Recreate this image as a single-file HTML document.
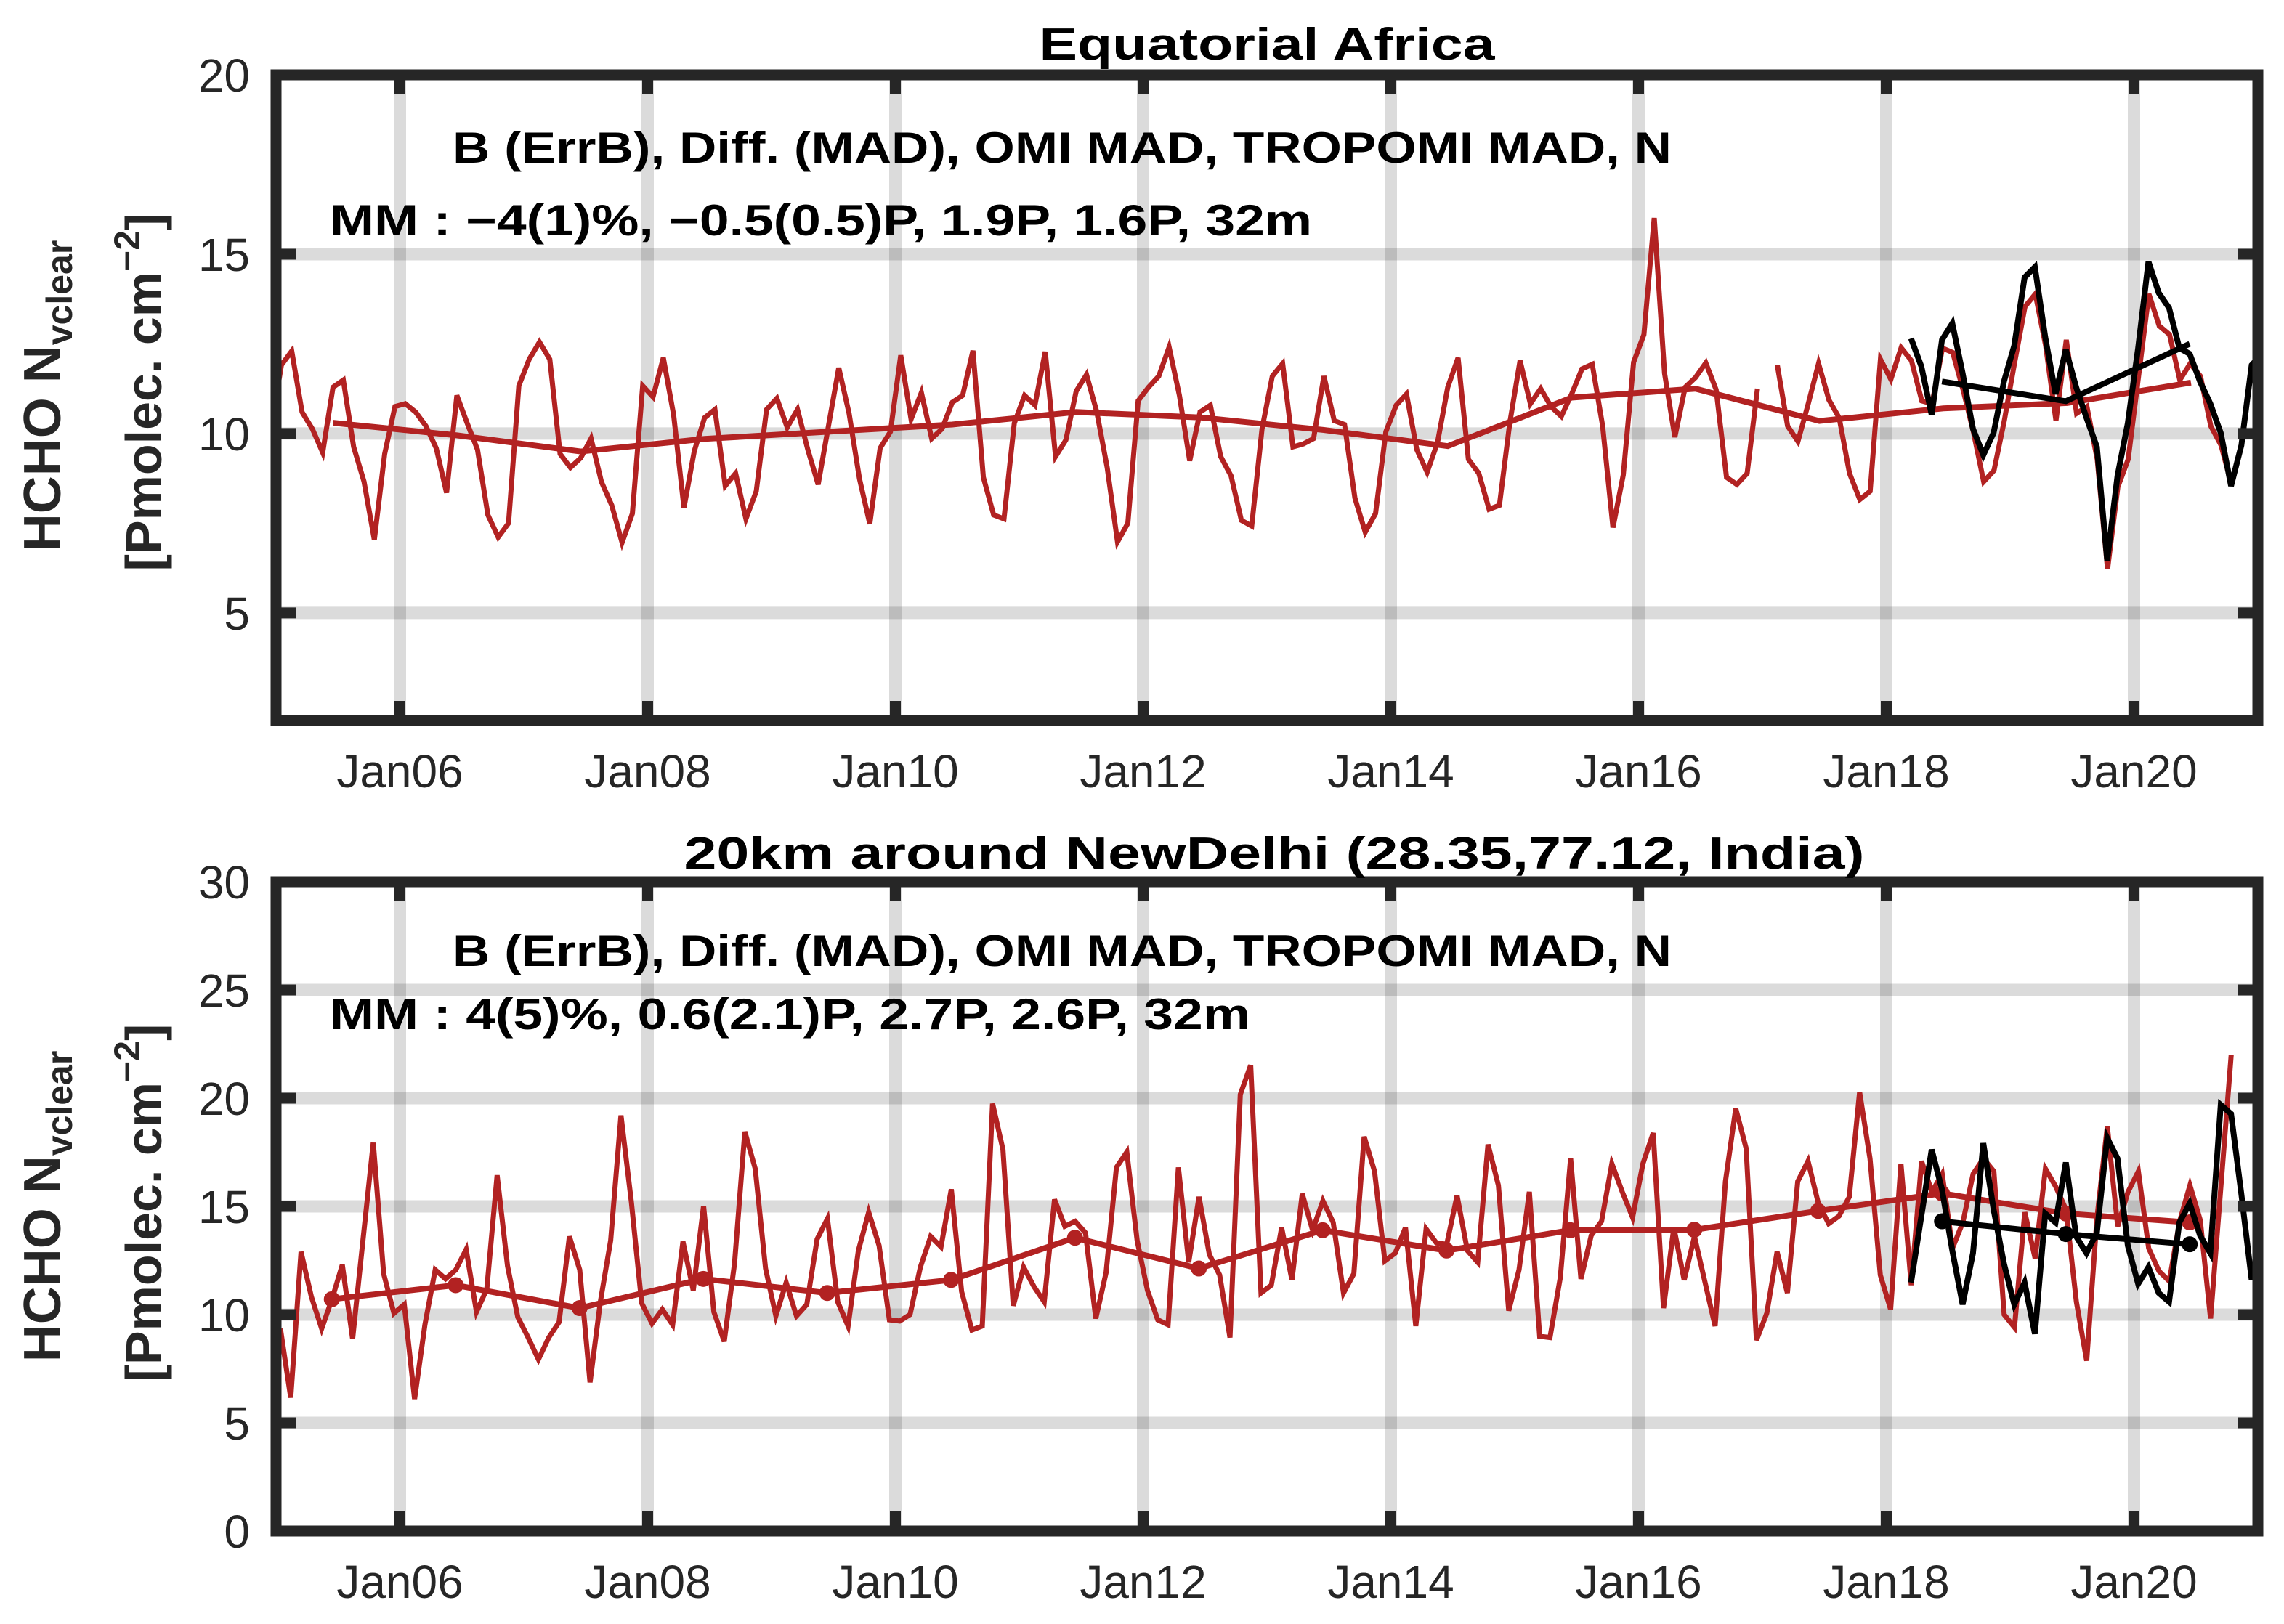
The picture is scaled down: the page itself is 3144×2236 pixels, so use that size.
<!DOCTYPE html>
<html><head><meta charset="utf-8">
<style>
html,body{margin:0;padding:0;background:#fff;}
svg{display:block;}
text{font-family:"Liberation Sans",sans-serif;}
</style></head>
<body>
<svg id="fig" xmlns="http://www.w3.org/2000/svg" width="3144" height="2236" viewBox="0 0 3144 2236">
<rect x="0" y="0" width="3144" height="2236" fill="#fff"/>
<defs>
<clipPath id="clipTop"><rect x="380" y="103" width="2728" height="889"/></clipPath>
<clipPath id="clipBot"><rect x="380" y="1214" width="2728" height="894"/></clipPath>
</defs>
<g id="top"></g>
<g id="bot"></g>
<text x="1744" y="82" text-anchor="middle" font-size="62" font-weight="bold" textLength="627" lengthAdjust="spacingAndGlyphs">Equatorial Africa</text>
<text x="623" y="224" font-size="60" font-weight="bold" textLength="1678" lengthAdjust="spacingAndGlyphs">B (ErrB), Diff. (MAD), OMI MAD, TROPOMI MAD, N</text>
<text x="454" y="324" font-size="60" font-weight="bold" textLength="1352" lengthAdjust="spacingAndGlyphs">MM : −4(1)%, −0.5(0.5)P, 1.9P, 1.6P, 32m</text>
<text x="1754" y="1196" text-anchor="middle" font-size="62" font-weight="bold" textLength="1625" lengthAdjust="spacingAndGlyphs">20km around NewDelhi (28.35,77.12, India)</text>
<text x="623" y="1330" font-size="60" font-weight="bold" textLength="1678" lengthAdjust="spacingAndGlyphs">B (ErrB), Diff. (MAD), OMI MAD, TROPOMI MAD, N</text>
<text x="454" y="1417" font-size="60" font-weight="bold" textLength="1267" lengthAdjust="spacingAndGlyphs">MM : 4(5)%, 0.6(2.1)P, 2.7P, 2.6P, 32m</text>
<g transform="translate(83,545) rotate(-90)">
<text text-anchor="middle" font-size="72" font-weight="bold" fill="#262626">HCHO N<tspan font-size="50" dy="16">vclear</tspan></text>
</g>
<g transform="translate(222,540) rotate(-90)">
<text text-anchor="middle" font-size="70" font-weight="bold" fill="#262626">[Pmolec. cm<tspan font-size="50" dy="-30">−2</tspan><tspan dy="30">]</tspan></text>
</g>
<g transform="translate(83,1661) rotate(-90)">
<text text-anchor="middle" font-size="72" font-weight="bold" fill="#262626">HCHO N<tspan font-size="50" dy="16">vclear</tspan></text>
</g>
<g transform="translate(222,1656) rotate(-90)">
<text text-anchor="middle" font-size="70" font-weight="bold" fill="#262626">[Pmolec. cm<tspan font-size="50" dy="-30">−2</tspan><tspan dy="30">]</tspan></text>
</g>
</svg>
<script>
// ---------- data ----------
const xTickYears = [2006, 2008, 2010, 2012, 2014, 2016, 2018, 2020];
const xTickLabels = ["Jan06", "Jan08", "Jan10", "Jan12", "Jan14", "Jan16", "Jan18", "Jan20"];
const topYTicks = [5, 10, 15, 20];
const botYTicks = [0, 5, 10, 15, 20, 25, 30];

const topRedStartA = 2004.96;
const topRedA = [10.15,11.91,12.30,10.60,10.13,9.47,11.29,11.49,9.63,8.66,
7.04,9.43,10.75,10.83,10.60,10.21,9.59,8.35,11.06,10.29,
9.55,7.73,7.11,7.50,11.33,12.07,12.55,12.07,9.43,9.05,
9.32,9.86,8.66,8.00,6.96,7.77,11.33,11.02,12.11,10.52,
7.93,9.51,10.44,10.67,8.54,8.89,7.62,8.39,10.67,10.98,
10.17,10.67,9.55,8.58,10.21,11.83,10.56,8.74,7.48,9.59,
10.05,12.18,10.40,11.14,9.86,10.13,
10.87,11.06,12.31,8.78,7.73,7.62,10.29,11.06,10.79,12.28,
9.36,9.82,11.18,11.64,10.60,9.05,6.98,7.50,10.91,11.29,
11.60,12.41,11.06,9.24,10.60,10.79,9.36,8.82,7.58,7.42,
10.13,11.60,11.95,9.63,9.71,9.86,11.60,10.36,10.25,8.20,
7.25,7.77,10.05,10.79,11.10,9.55,8.92,9.74,11.29,12.11,
9.28,8.89,7.89,8.00,10.29,12.03,10.83,11.25,10.75,10.48,
11.10,11.80,11.93,10.21,7.38,
8.85,11.99,12.76,16.01,11.68,9.90,11.29,11.56,11.97,11.22,
8.78,8.58,8.89,11.25];
const topRedStartB = 2017.12;
const topRedB = [11.91,10.21,9.78,10.83,11.95,10.94,10.44,8.89,8.16,8.39,
12.07,11.51,12.39,12.03,10.91,10.83,12.38,12.26,11.22,10.05,
8.66,8.97,10.36,11.99,13.54,13.89,12.45,10.36,12.61,10.56,
10.75,9.28,6.22,8.51,9.28,11.60,13.89,13.00,12.76,11.49,
11.95,11.60,10.21,9.67,8.58];
const topBlackStart = 2018.2;
const topBlack = [12.65,11.87,10.52,12.61,13.07,11.68,10.13,9.40,10.02,11.45,
12.45,14.35,14.64,12.69,11.10,12.34,11.29,10.44,9.63,6.46,
8.82,10.29,12.38,14.79,13.92,13.50,12.38,12.22,11.45,10.83,
10.02,8.54,9.67,11.91,12.22];
const trendYearsRed = [2005.5,2006.5,2007.5,2008.5,2009.5,2010.5,2011.5,2012.5,2013.5,2014.5,2015.5,2016.5,2017.5,2018.5,2019.5,2020.5];
const topRedTrend = [10.3,9.95,9.5,9.85,10.05,10.25,10.6,10.45,10.1,9.65,11.0,11.25,10.35,10.7,10.85,11.42];
const trendYearsBlack = [2018.45,2019.45,2020.45];
const topBlackTrend = [11.45,10.9,12.5];

const botRedStart = 2005.035;
const botRed = [9.35,6.16,12.90,10.83,9.35,10.71,12.30,8.88,13.43,17.94,
11.89,10.06,10.47,6.10,9.53,12.07,11.65,12.07,13.01,10.12,
11.18,16.44,12.25,9.88,8.94,7.93,8.94,9.65,13.61,12.07,
6.87,10.59,13.43,19.20,15.20,10.53,9.59,10.24,9.53,13.37,
11.12,15.02,10.12,8.76,12.36,18.45,16.74,12.13,9.94,11.48,
9.94,10.47,13.49,14.43,10.59,9.47,12.96,14.73,13.19,9.76,
9.70,10.00,12.19,13.61,13.13,
15.79,11.06,9.29,9.47,19.75,17.62,10.41,12.19,11.30,10.59,
15.32,14.08,14.31,13.78,9.82,11.95,16.80,17.51,13.43,11.12,
9.76,9.53,16.80,12.42,15.44,12.78,11.83,8.94,20.17,21.52,
11.00,11.36,14.02,11.60,15.58,13.90,15.26,14.26,11.00,11.89,
18.22,16.62,12.48,12.84,14.02,9.47,13.96,13.31,13.25,15.50,
12.96,12.42,17.86,15.97,10.18,12.07,15.67,9.00,8.94,11.71,
17.21,11.65,13.66,14.31,16.97,
15.67,14.49,16.97,18.39,10.30,14.02,11.60,13.61,11.54,9.47,
16.15,19.52,17.68,8.82,10.06,12.90,11.00,16.15,17.09,15.14,
14.20,14.55,15.44,20.28,17.21,11.83,10.24,16.97,11.36,17.09,
15.67,16.50,13.07,14.26,16.50,17.21,16.62,10.00,9.41,14.73,
12.60,16.74,15.91,14.85,10.59,7.87,14.49,18.69,14.08,15.67,
16.62,13.07,12.01,11.54,14.31,15.97,14.37,9.82,15.91,22.0];
const botBlackStart = 2018.2;
const botBlack = [11.48,14.55,17.62,15.79,12.96,10.47,12.84,17.92,14.85,12.36,
10.47,11.48,9.11,14.67,14.26,17.03,13.61,12.84,13.78,18.16,
17.21,13.19,11.42,12.19,11.00,10.59,14.26,15.14,13.66,12.84,
19.69,19.28,15.56,11.60];
const botRedTrend = [10.71,11.36,10.30,11.65,11.0,11.6,13.55,12.13,13.9,12.96,13.9,13.92,14.79,15.6,14.67,14.26];
const botBlackTrend = [14.31,13.72,13.25];

// ---------- scales ----------
const X0 = 380, X1 = 3108, PXYR = 170.5;
function xs(t){ return X0 + (t - 2005) * PXYR; }
const TOP = {yTop:103, yBot:992, vMin:2, vMax:20, clip:'clipTop'};
const BOT = {yTop:1214, yBot:2108, vMin:0, vMax:30, clip:'clipBot'};
function ysF(ax){ return v => ax.yBot - (v - ax.vMin) / (ax.vMax - ax.vMin) * (ax.yBot - ax.yTop); }
const NS = 'http://www.w3.org/2000/svg';
function mk(tag, attrs, parent){
  const e = document.createElementNS(NS, tag);
  for (const k in attrs) e.setAttribute(k, attrs[k]);
  parent.appendChild(e);
  return e;
}
function pathFrom(ts, vs, ys){
  return vs.map((v,i)=>(i?'L':'M')+xs(ts[i]).toFixed(1)+','+ys(v).toFixed(1)).join(' ');
}
function monthly(start, n){ const a=[]; for(let i=0;i<n;i++) a.push(start + i/12); return a; }

function drawPanel(g, ax, yTicks, prefix){
  const ys = ysF(ax);
  // grid
  xTickYears.forEach((yr,i)=>{
    const l = mk('line',{x1:xs(yr),x2:xs(yr),y1:ax.yTop,y2:ax.yBot,stroke:'#000','stroke-opacity':0.14,'stroke-width':17},g);
    
    
  });
  yTicks.forEach(v=>{
    if (v===ax.vMin || v===ax.vMax) return;
    const l = mk('line',{x1:X0,x2:X1,y1:ys(v),y2:ys(v),stroke:'#000','stroke-opacity':0.14,'stroke-width':17},g);
    
    
  });
  return ys;
}
function drawLine(g, ax, ts, vs, color, w, name){
  const ys = ysF(ax);
  const p = mk('path',{d:pathFrom(ts,vs,ys),fill:'none',stroke:color,'stroke-width':w,'stroke-linejoin':'miter','stroke-miterlimit':4,'clip-path':'url(#'+ax.clip+')'},g);
  
  
}
function drawMarkers(g, ax, ts, vs, color, name){
  const ys = ysF(ax);
  vs.forEach((v,i)=>{
    const c = mk('circle',{cx:xs(ts[i]),cy:ys(v),r:11,fill:color},g);
    
    
  });
}
function drawFrame(g, ax, yTicks, prefix){
  const ys = ysF(ax);
  const col = '#262626';
  xTickYears.forEach((yr,i)=>{
    const t1 = mk('line',{x1:xs(yr),x2:xs(yr),y1:ax.yTop,y2:ax.yTop+27,stroke:col,'stroke-width':15},g);
    
    
    const t2 = mk('line',{x1:xs(yr),x2:xs(yr),y1:ax.yBot,y2:ax.yBot-27,stroke:col,'stroke-width':15},g);
    
    
    const lb = mk('text',{x:xs(yr),y:ax.yBot+92,'text-anchor':'middle','font-size':64,fill:col},g);
    lb.textContent = xTickLabels[i];
    
    
  });
  yTicks.forEach(v=>{
    const t1 = mk('line',{x1:X0,x2:X0+27,y1:ys(v),y2:ys(v),stroke:col,'stroke-width':15},g);
    
    
    const t2 = mk('line',{x1:X1,x2:X1-27,y1:ys(v),y2:ys(v),stroke:col,'stroke-width':15},g);
    
    
    const lb = mk('text',{x:344,y:ys(v)+23,'text-anchor':'end','font-size':64,fill:col},g);
    lb.textContent = String(v);
    
    
  });
  const fr = mk('rect',{x:X0,y:ax.yTop,width:X1-X0,height:ax.yBot-ax.yTop,fill:'none',stroke:col,'stroke-width':15},g);
  
  
}

const RED = '#b22222', BLACK = '#000000';
const gTop = document.getElementById('top');
drawPanel(gTop, TOP, topYTicks, 'top');
drawLine(gTop, TOP, monthly(topRedStartA, topRedA.length), topRedA, RED, 7, 'top-omi-monthly-line');
drawLine(gTop, TOP, monthly(topRedStartB, topRedB.length), topRedB, RED, 7, 'top-omi-monthly-line-2');
drawLine(gTop, TOP, trendYearsRed.map(t=>t-0.04), topRedTrend, RED, 8, 'top-omi-annual-line');
drawLine(gTop, TOP, monthly(topBlackStart, topBlack.length), topBlack, BLACK, 8, 'top-tropomi-monthly-line');
drawLine(gTop, TOP, trendYearsBlack, topBlackTrend, BLACK, 8, 'top-tropomi-annual-line');
drawFrame(gTop, TOP, topYTicks, 'top');

const gBot = document.getElementById('bot');
drawPanel(gBot, BOT, botYTicks, 'bottom');
drawLine(gBot, BOT, monthly(botRedStart, botRed.length), botRed, RED, 7, 'bottom-omi-monthly-line');
const botTrendT = trendYearsRed.map(t=>t-0.05);
drawLine(gBot, BOT, botTrendT, botRedTrend, RED, 8, 'bottom-omi-annual-line');
drawMarkers(gBot, BOT, botTrendT, botRedTrend, RED, 'bottom-omi-annual-marker');
drawLine(gBot, BOT, monthly(botBlackStart, botBlack.length), botBlack, BLACK, 8, 'bottom-tropomi-monthly-line');
drawLine(gBot, BOT, trendYearsBlack, botBlackTrend, BLACK, 8, 'bottom-tropomi-annual-line');
drawMarkers(gBot, BOT, trendYearsBlack, botBlackTrend, BLACK, 'bottom-tropomi-annual-marker');
drawFrame(gBot, BOT, botYTicks, 'bottom');
</script>
</body></html>
